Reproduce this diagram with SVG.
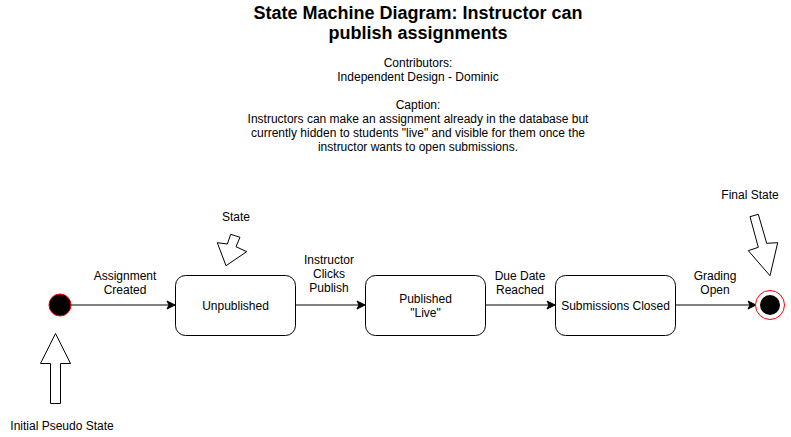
<svg xmlns="http://www.w3.org/2000/svg" width="791" height="437" viewBox="0 0 791 437">
<defs>
<style>
text{font-family:"Liberation Sans",Arial,Helvetica,sans-serif;font-size:12px;fill:#000;text-anchor:middle}
.title{font-size:18px;font-weight:bold}
.box{fill:#fff;stroke:#000;stroke-width:1}
.edge{stroke:#000;stroke-width:1;fill:none}
.callout{fill:#fff;stroke:#000;stroke-width:1}
</style>
<marker id="arr" markerUnits="userSpaceOnUse" markerWidth="10" markerHeight="10" refX="9" refY="5" orient="auto">
<path d="M9,5 L1,1 L3,5 L1,9 Z" fill="#000" stroke="#000" stroke-width="1"/>
</marker>
</defs>
<rect width="791" height="437" fill="#fff"/>
<g id="title">
<text class="title" x="418" y="19">State Machine Diagram: Instructor can</text>
<text class="title" x="418" y="39">publish assignments</text>
</g>
<g id="description">
<text x="418" y="67">Contributors:</text>
<text x="418" y="81">Independent Design - Dominic</text>
<text x="418" y="109">Caption:</text>
<text x="418" y="123">Instructors can make an assignment already in the database but</text>
<text x="418" y="137">currently hidden to students "live" and visible for them once the</text>
<text x="418" y="151">instructor wants to open submissions.</text>
</g>
<g id="connectors">
<line class="edge" x1="71" y1="305" x2="175" y2="305" marker-end="url(#arr)"/>
<line class="edge" x1="295" y1="305" x2="365" y2="305" marker-end="url(#arr)"/>
<line class="edge" x1="485" y1="305" x2="555" y2="305" marker-end="url(#arr)"/>
<line class="edge" x1="675" y1="305" x2="756" y2="305" marker-end="url(#arr)"/>
<text x="125" y="280">Assignment</text>
<text x="125" y="294">Created</text>
<text x="329" y="264">Instructor</text>
<text x="329" y="278">Clicks</text>
<text x="329" y="292">Publish</text>
<text x="520" y="280">Due Date</text>
<text x="520" y="294">Reached</text>
<text x="715" y="280">Grading</text>
<text x="715" y="294">Open</text>
</g>
<g id="initial">
<circle cx="60" cy="305" r="11" fill="#000" stroke="#f00" stroke-width="1"/>
</g>
<g id="unpublished">
<rect class="box" x="175.5" y="275.5" width="120" height="60" rx="10"/>
<text x="235.5" y="310">Unpublished</text>
</g>
<g id="published">
<rect class="box" x="365.5" y="275.5" width="120" height="60" rx="10"/>
<text x="425.5" y="303">Published</text>
<text x="425.5" y="317">"Live"</text>
</g>
<g id="submissions">
<rect class="box" x="555.5" y="275.5" width="120" height="60" rx="10"/>
<text x="615.5" y="310">Submissions Closed</text>
</g>
<g id="final">
<circle cx="770" cy="305" r="14.5" fill="#fff" stroke="#f00" stroke-width="1"/>
<circle cx="770" cy="305" r="10" fill="#000"/>
</g>
<g id="initial-callout">
<polygon class="callout" points="55.5,333.5 70.5,363.5 60.5,363.5 60.5,403.5 50.5,403.5 50.5,363.5 40.5,363.5"/>
<text x="62" y="430">Initial Pseudo State</text>
</g>
<g id="state-callout">
<polygon class="callout" points="230.7,234.3 240,237.3 236,246.7 246.7,251.7 226,265.7 217.3,242.7 227.3,244"/>
<text x="236" y="221">State</text>
</g>
<g id="final-callout">
<polygon class="callout" points="750,216.7 758.3,214.3 766.7,243.3 777.7,242.7 770,275.7 748.3,250.7 758.3,247.3"/>
<text x="750" y="199">Final State</text>
</g>
</svg>
